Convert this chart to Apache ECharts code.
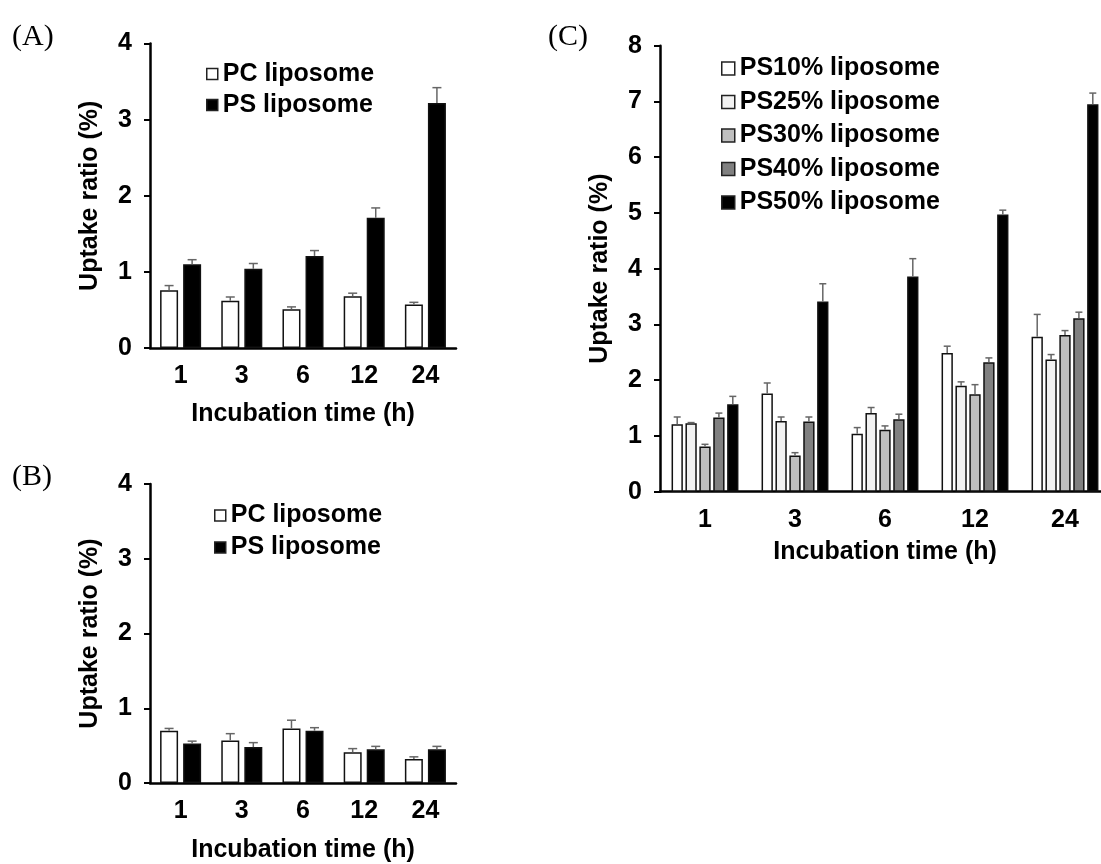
<!DOCTYPE html>
<html>
<head>
<meta charset="utf-8">
<script src="https://cdn.jsdelivr.net/npm/echarts@6/dist/echarts.min.js"></script>
<style>
html,body{margin:0;padding:0;background:#fff;overflow:hidden;width:1101px;height:864px;}
#chart{width:1120px;height:864px;}
</style>
</head>
<body>
<div id="chart"></div>
<script>
// ---- Data ----
const categories = ['1', '3', '6', '12', '24'];

// Panel A
const aPC = [0.76, 0.62, 0.51, 0.68, 0.57];
const aPCsd = [0.06, 0.05, 0.03, 0.04, 0.03];
const aPS = [1.10, 1.04, 1.21, 1.71, 3.22];
const aPSsd = [0.06, 0.07, 0.07, 0.13, 0.20];

// Panel B
const bPC = [0.70, 0.57, 0.73, 0.41, 0.32];
const bPCsd = [0.03, 0.09, 0.11, 0.05, 0.03];
const bPS = [0.53, 0.48, 0.70, 0.45, 0.45];
const bPSsd = [0.03, 0.06, 0.04, 0.04, 0.04];

// Panel C
const cPS10 = [1.21, 1.76, 1.04, 2.49, 2.78];
const cPS10sd = [0.13, 0.19, 0.11, 0.12, 0.40];
const cPS25 = [1.23, 1.27, 1.41, 1.90, 2.37];
const cPS25sd = [0.01, 0.07, 0.10, 0.07, 0.09];
const cPS30 = [0.81, 0.65, 1.11, 1.75, 2.81];
const cPS30sd = [0.04, 0.05, 0.07, 0.17, 0.08];
const cPS40 = [1.33, 1.26, 1.30, 2.32, 3.11];
const cPS40sd = [0.08, 0.08, 0.09, 0.08, 0.11];
const cPS50 = [1.57, 3.41, 3.86, 4.97, 6.95];
const cPS50sd = [0.14, 0.32, 0.32, 0.08, 0.20];

const FONT = 'Liberation Sans, Arial, sans-serif';
const FS = 25;

// ---- Layout ----
const grids = [
  {left: 150, top: 43.5, width: 306, height: 304.5},
  {left: 150, top: 484, width: 306, height: 305},
  {left: 660, top: 45.7, width: 450, height: 446}
];

function xAxis(i, nameGap) {
  return {
    type: 'category', gridIndex: i, data: categories,
    axisLine: {lineStyle: {color: '#000', width: 2.5}},
    axisTick: {show: false},
    axisLabel: {color: '#000', fontFamily: FONT, fontWeight: 'bold', fontSize: FS, margin: 16},
    name: 'Incubation time (h)', nameLocation: 'middle', nameGap: nameGap,
    nameTextStyle: {color: '#000', fontFamily: FONT, fontWeight: 'bold', fontSize: FS}
  };
}
function yAxis(i, max) {
  return {
    type: 'value', gridIndex: i, min: 0, max: max, interval: 1,
    splitLine: {show: false},
    axisLine: {show: true, lineStyle: {color: '#000', width: 2.5}},
    axisTick: {show: true, length: 6, lineStyle: {color: '#000', width: 2}},
    axisLabel: {color: '#000', fontFamily: FONT, fontWeight: 'bold', fontSize: FS, margin: 18},
    name: 'Uptake ratio (%)', nameLocation: 'middle', nameGap: 47,
    nameTextStyle: {color: '#000', fontFamily: FONT, fontWeight: 'bold', fontSize: FS}
  };
}

function barSeries(name, data, gi, color, bw, gap, border) {
  return {
    type: 'bar', name: name, data: data,
    xAxisIndex: gi, yAxisIndex: gi,
    barWidth: bw, barGap: gap,
    itemStyle: {color: color, borderColor: '#111', borderWidth: border},
    emphasis: {disabled: true}, z: 2
  };
}

function errSeries(vals, sds, gi, offset, cap) {
  return {
    type: 'custom', xAxisIndex: gi, yAxisIndex: gi, z: 5, silent: true,
    data: vals.map((v, k) => [k, v, sds[k]]),
    encode: {x: 0, y: 1},
    renderItem: function (params, api) {
      const c = api.value(0), v = api.value(1), s = api.value(2);
      const p0 = api.coord([c, v]);
      const p1 = api.coord([c, v + s]);
      const x = p0[0] + offset;
      return {
        type: 'group',
        children: [
          {type: 'line', shape: {x1: x, y1: p0[1], x2: x, y2: p1[1]}, style: {stroke: '#666666', lineWidth: 1.5}},
          {type: 'line', shape: {x1: x - cap / 2, y1: p1[1], x2: x + cap / 2, y2: p1[1]}, style: {stroke: '#666666', lineWidth: 1.5}}
        ]
      };
    }
  };
}

// bar geometry
const abW = 18, abGap = 0.28;
const abStride = abW * (1 + abGap);
const cW = 11.3, cGap = 0.23;
const cStride = cW * (1 + cGap);

const cNames = ['PS10% liposome', 'PS25% liposome', 'PS30% liposome', 'PS40% liposome', 'PS50% liposome'];
const cColors = ['#ffffff', '#f2f2f2', '#bfbfbf', '#808080', '#000000'];
const cVals = [cPS10, cPS25, cPS30, cPS40, cPS50];
const cSds = [cPS10sd, cPS25sd, cPS30sd, cPS40sd, cPS50sd];

const gapStr = abGap * 100 + '%';
const series = [
  barSeries('PC liposome', aPC, 0, '#ffffff', abW, gapStr, 1.5),
  barSeries('PS liposome', aPS, 0, '#000000', abW, gapStr, 1.5),
  barSeries('PC liposome', bPC, 1, '#ffffff', abW, gapStr, 1.5),
  barSeries('PS liposome', bPS, 1, '#000000', abW, gapStr, 1.5),
  errSeries(aPC, aPCsd, 0, -abStride / 2, 9),
  errSeries(aPS, aPSsd, 0, abStride / 2, 9),
  errSeries(bPC, bPCsd, 1, -abStride / 2, 9),
  errSeries(bPS, bPSsd, 1, abStride / 2, 9)
];
cNames.forEach((n, i) => {
  series.push(barSeries(n, cVals[i], 2, cColors[i], cW, cGap * 100 + '%', 1.5));
});
cNames.forEach((n, i) => {
  series.push(errSeries(cVals[i], cSds[i], 2, (i - 2) * cStride, 7));
});

function legend(names, colors, left, top, gap, box) {
  return {
    orient: 'vertical', left: left, top: top, itemGap: gap,
    itemWidth: box, itemHeight: box, icon: 'rect', selectedMode: false,
    textStyle: {color: '#000', fontFamily: FONT, fontWeight: 'bold', fontSize: FS, lineHeight: 25},
    data: names.map((n, i) => ({name: n, itemStyle: {color: colors[i], borderColor: '#222', borderWidth: 1.5}}))
  };
}

const panelLabel = (txt, x, y) => ({
  type: 'text', left: x, top: y,
  style: {text: txt, font: '30px "Liberation Serif", "Times New Roman", serif', fill: '#000'}
});

const option = {
  animation: false,
  backgroundColor: '#fff',
  grid: grids,
  xAxis: [xAxis(0, 54), xAxis(1, 55), xAxis(2, 48)],
  yAxis: [yAxis(0, 4), yAxis(1, 4), yAxis(2, 8)],
  legend: [
    legend(['PC liposome', 'PS liposome'], ['#fff', '#000'], 201, 56.5, 6, 11),
    legend(['PC liposome', 'PS liposome'], ['#fff', '#000'], 209, 498, 7, 11),
    legend(cNames, cColors, 716, 51, 8.5, 13)
  ],
  graphic: [
    panelLabel('(A)', 12, 22),
    panelLabel('(B)', 12, 462),
    panelLabel('(C)', 548, 22)
  ],
  series: series
};

const chart = echarts.init(document.getElementById('chart'), null, {renderer: 'canvas'});
chart.setOption(option);
</script>
</body>
</html>
